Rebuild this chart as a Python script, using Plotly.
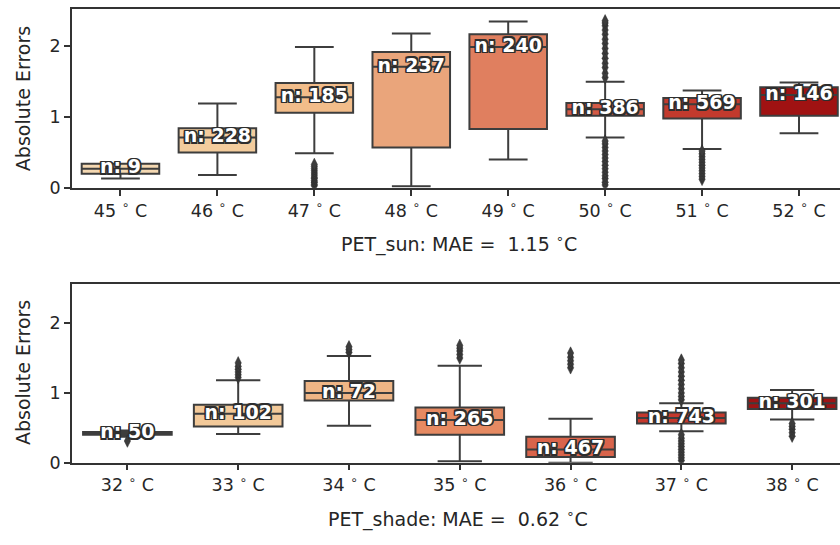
import plotly.graph_objects as go

# ---- data: PET_sun panel ----
sun_labels = ["45", "46", "47", "48", "49", "50", "51", "52"]
sun_q1 = [0.20, 0.50, 1.06, 0.57, 0.83, 1.02, 0.98, 1.02]
sun_med = [0.27, 0.71, 1.28, 1.71, 1.99, 1.11, 1.18, 1.31]
sun_q3 = [0.34, 0.84, 1.48, 1.92, 2.17, 1.20, 1.27, 1.42]
sun_lo = [0.13, 0.18, 0.49, 0.02, 0.40, 0.71, 0.55, 0.77]
sun_hi = [0.34, 1.19, 1.99, 2.18, 2.35, 1.50, 1.375, 1.49]
sun_n = [9, 228, 185, 237, 240, 386, 569, 146]
sun_fliers = {
    2: [0.03, 0.05, 0.08, 0.10, 0.13, 0.15, 0.18, 0.21, 0.24, 0.27, 0.30, 0.33],
    5: [1.56, 1.62, 1.70, 1.76, 1.83, 1.90, 1.97, 2.04, 2.10, 2.17, 2.23, 2.29, 2.33, 2.36,
        0.04, 0.08, 0.13, 0.17, 0.22, 0.27, 0.32, 0.37, 0.42, 0.47, 0.52, 0.57, 0.62, 0.66],
    6: [0.12, 0.16, 0.20, 0.24, 0.28, 0.32, 0.36, 0.40, 0.44, 0.48, 0.52],
}
sun_colors = ["#f4d8b2", "#f3cc9d", "#f2bd8a", "#eaa57b", "#e07f5f",
              "#d45a45", "#c23a2d", "#a01212"]

# ---- data: PET_shade panel ----
shade_labels = ["32", "33", "34", "35", "36", "37", "38"]
shade_q1 = [0.40, 0.52, 0.89, 0.40, 0.08, 0.56, 0.77]
shade_med = [0.42, 0.70, 1.00, 0.61, 0.19, 0.64, 0.85]
shade_q3 = [0.44, 0.83, 1.17, 0.79, 0.37, 0.72, 0.93]
shade_lo = [0.37, 0.41, 0.53, 0.02, 0.00, 0.45, 0.62]
shade_hi = [0.46, 1.18, 1.53, 1.39, 0.63, 0.85, 1.04]
shade_n = [50, 102, 72, 265, 467, 743, 301]
shade_fliers = {
    0: [0.31],
    1: [1.22, 1.26, 1.30, 1.34, 1.38, 1.43],
    2: [1.58, 1.62, 1.66],
    3: [1.50, 1.55, 1.60, 1.64, 1.68],
    4: [1.36, 1.41, 1.46, 1.51, 1.57],
    5: [0.90, 0.95, 1.00, 1.06, 1.12, 1.18, 1.24, 1.30, 1.36, 1.42, 1.47,
        0.03, 0.07, 0.11, 0.15, 0.19, 0.23, 0.27, 0.31, 0.35, 0.40],
    6: [0.38, 0.43, 0.48, 0.52, 0.56],
}
shade_colors = ["#f4d6ae", "#f3c999", "#efb585", "#e68a62", "#d9644b",
                "#c5382c", "#9e1414"]

sun_mae = 1.15
shade_mae = 0.62

EDGE = "#3d3d3d"
AXIS = "#333333"
TXT = "#262626"
FONT = "DejaVu Sans"
TICK_SIZE = 17.5
LABEL_SIZE = 19
outline = ", ".join(
    f"{dx}px {dy}px 0 #2e2e2e"
    for dx, dy in [(-1.5, -1.5), (1.5, -1.5), (-1.5, 1.5), (1.5, 1.5),
                   (0, 1.5), (0, -1.5), (1.5, 0), (-1.5, 0)]
)

fig = go.Figure()


def add_panel(xa, ya, q1, med, q3, lo, hi, n, fliers, colors):
    for i in range(len(q1)):
        fig.add_trace(go.Box(
            x=[i], q1=[q1[i]], median=[med[i]], q3=[q3[i]],
            lowerfence=[lo[i]], upperfence=[hi[i]],
            fillcolor=colors[i], line=dict(color=EDGE, width=2),
            width=0.8, whiskerwidth=0.5, boxpoints=False,
            xaxis=xa, yaxis=ya, hoverinfo="skip", showlegend=False,
        ))
    for i, vals in fliers.items():
        fig.add_trace(go.Scatter(
            x=[i] * len(vals), y=vals, mode="markers",
            marker=dict(symbol="diamond-tall", size=9, color=EDGE,
                        line=dict(color="#2a2a2a", width=0.5)),
            xaxis=xa, yaxis=ya, hoverinfo="skip", showlegend=False,
        ))
    fig.add_trace(go.Scatter(
        x=list(range(len(med))), y=med, mode="text",
        text=[f"n: {v}" for v in n], textposition="middle center",
        textfont=dict(family=FONT, size=19, color="white", weight="bold",
                      shadow=outline),
        xaxis=xa, yaxis=ya, hoverinfo="skip", showlegend=False,
    ))


add_panel("x", "y", sun_q1, sun_med, sun_q3, sun_lo, sun_hi, sun_n,
          sun_fliers, sun_colors)
add_panel("x2", "y2", shade_q1, shade_med, shade_q3, shade_lo, shade_hi,
          shade_n, shade_fliers, shade_colors)

W, H = 840, 545
x0 = 72 / W


def xaxis(labels, right, anchor):
    return dict(
        domain=[x0, 1.0], range=[-0.5, right], anchor=anchor,
        tickvals=list(range(len(labels))),
        ticktext=[f"{t} <sup>∘</sup> C" for t in labels],
        showline=True, linecolor=AXIS, linewidth=1.5, mirror=True,
        ticks="outside", ticklen=6, tickwidth=1.5, tickcolor=AXIS,
        showgrid=False, zeroline=False,
        tickfont=dict(family=FONT, size=TICK_SIZE, color=TXT),
    )


def yaxis(dom, top, anchor):
    return dict(
        domain=dom, range=[0, top], anchor=anchor, tickvals=[0, 1, 2],
        showline=True, linecolor=AXIS, linewidth=1.5,
        ticks="outside", ticklen=6, tickwidth=1.5, tickcolor=AXIS,
        showgrid=False, zeroline=False,
        tickfont=dict(family=FONT, size=TICK_SIZE, color=TXT),
    )


def label(text, x, y, angle=0):
    return dict(text=text, textangle=angle, x=x / W, y=(H - y) / H,
                xref="paper", yref="paper", xanchor="center",
                yanchor="middle", showarrow=False,
                font=dict(family=FONT, size=LABEL_SIZE, color=TXT))


fig.update_layout(
    width=W, height=H, margin=dict(l=0, r=0, t=0, b=0),
    paper_bgcolor="white", plot_bgcolor="white", boxmode="overlay",
    xaxis=xaxis(sun_labels, 7.423, "y"),
    yaxis=yaxis([(H - 191.3) / H, (H - 9) / H], 2.53, "x"),
    xaxis2=xaxis(shade_labels, 6.432, "y2"),
    yaxis2=yaxis([(H - 471.3) / H, (H - 289) / H], 2.565, "x2"),
    annotations=[
        label(f"PET_sun: MAE =  {sun_mae:.2f} <sup>∘</sup>C", 459, 248),
        label(f"PET_shade: MAE =  {shade_mae:.2f} <sup>∘</sup>C", 458, 528),
        label("Absolute Errors", 23, 101, -90),
        label("Absolute Errors", 23, 380, -90),
    ],
)

fig.write_html("out.html")
